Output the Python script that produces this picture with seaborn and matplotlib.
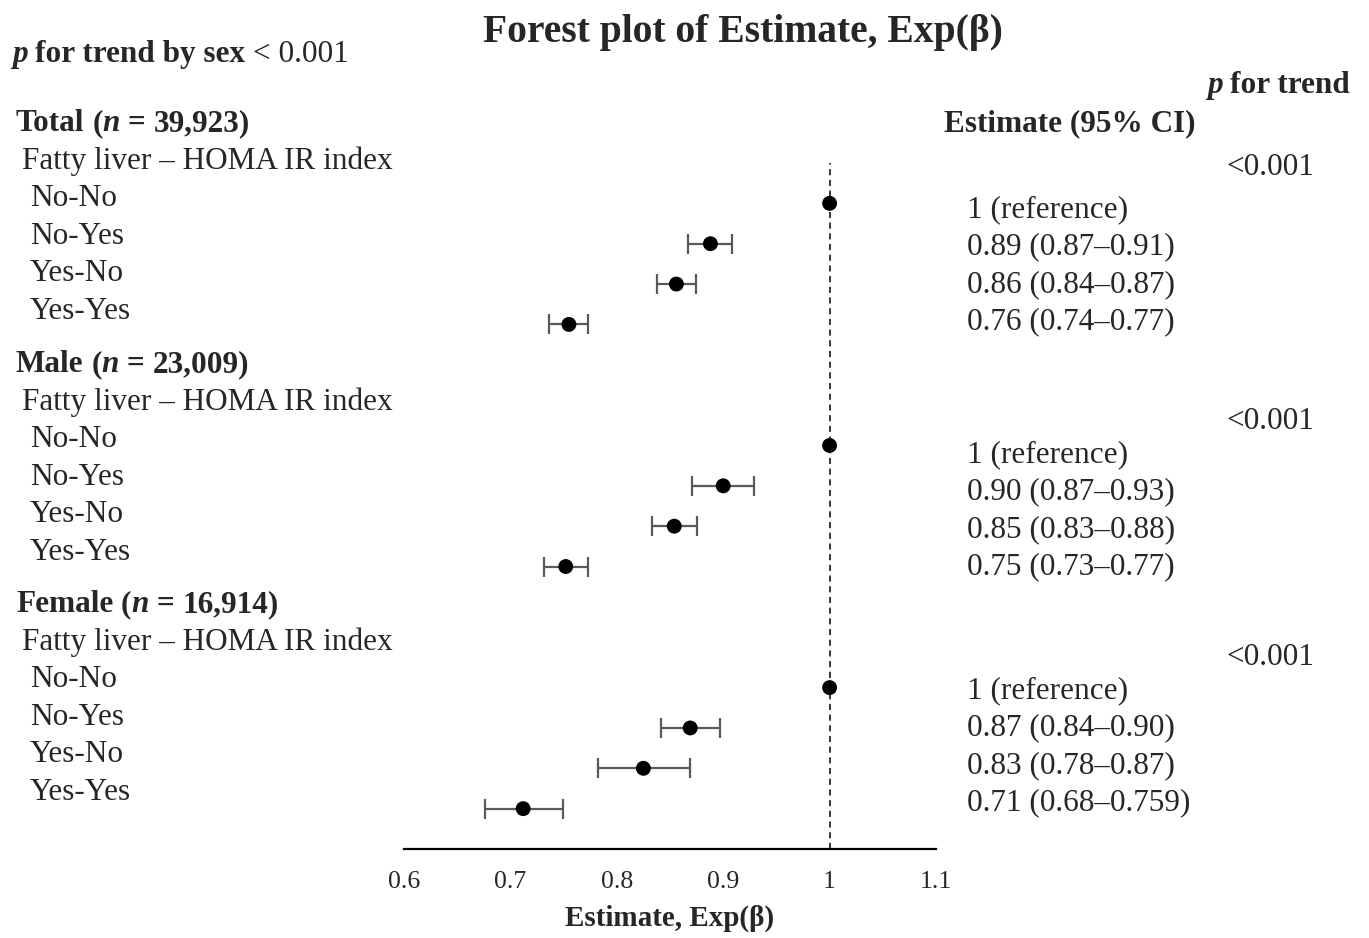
import numpy as np
import pandas as pd
import matplotlib
matplotlib.use('Agg')
import matplotlib.pyplot as plt
import seaborn as sns

sns.set_theme(style='white')
plt.rcParams['font.family'] = ['Liberation Serif', 'DejaVu Serif']

W, H, DPI = 1369, 938, 100

# data
groups = ['Total', 'Male', 'Female']
group_n = ['39,923', '23,009', '16,914']
categories = ['No-No', 'No-Yes', 'Yes-No', 'Yes-Yes']
est_total = [1.0, 0.888, 0.856, 0.755]
low_total = [1.0, 0.867, 0.838, 0.736]
high_total = [1.0, 0.908, 0.874, 0.773]
est_male = [1.0, 0.900, 0.854, 0.752]
low_male = [1.0, 0.871, 0.833, 0.732]
high_male = [1.0, 0.929, 0.875, 0.773]
est_female = [1.0, 0.869, 0.825, 0.712]
low_female = [1.0, 0.842, 0.782, 0.676]
high_female = [1.0, 0.897, 0.869, 0.749]
text_total = ['1 (reference)', '0.89 (0.87–0.91)', '0.86 (0.84–0.87)', '0.76 (0.74–0.77)']
text_male = ['1 (reference)', '0.90 (0.87–0.93)', '0.85 (0.83–0.88)', '0.75 (0.73–0.77)']
text_female = ['1 (reference)', '0.87 (0.84–0.90)', '0.83 (0.78–0.87)', '0.71 (0.68–0.759)']
p_trend = ['<0.001', '<0.001', '<0.001']

rows = []
for gi, (g, est, lo, hi) in enumerate([('Total', est_total, low_total, high_total),
                                       ('Male', est_male, low_male, high_male),
                                       ('Female', est_female, low_female, high_female)]):
    for ci, c in enumerate(categories):
        rows.append({'group': g, 'cat': c, 'est': est[ci], 'lo': lo[ci], 'hi': hi[ci],
                     'row': gi * 6 + ci})
df = pd.DataFrame(rows)

fig = plt.figure(figsize=(W / DPI, H / DPI), dpi=DPI)
ax = fig.add_axes([404 / W, 1 - 849 / H, (936 - 404) / W, (849 - 163) / H])

ci_df = df[df['hi'] > df['lo']]
ax.errorbar(ci_df['est'], ci_df['row'],
            xerr=[ci_df['est'] - ci_df['lo'], ci_df['hi'] - ci_df['est']],
            fmt='none', ecolor='#5a5a5a', elinewidth=1.6, capsize=7, capthick=1.6, zorder=2)
sns.scatterplot(data=df, x='est', y='row', color='black', s=115, edgecolor='none',
                ax=ax, zorder=3, legend=False)
ax.axvline(1.0, color='black', lw=1.1, ls=(0, (4, 3)), zorder=1)

ax.set_xlim(0.6, 1.1)
ax.set_ylim(16, -1)
ax.set_xticks([0.6, 0.7, 0.8, 0.9, 1.0, 1.1])
ax.set_xticklabels(['0.6', '0.7', '0.8', '0.9', '1', '1.1'])
ax.set_yticks([])
ax.tick_params(axis='x', length=0, pad=16, labelsize=18.5)
for s in ['top', 'right', 'left']:
    ax.spines[s].set_visible(False)
ax.spines['bottom'].set_linewidth(1.6)
ax.spines['bottom'].set_color('black')
ax.set_xlabel('Estimate, Exp(β)', fontsize=21, fontweight='bold', labelpad=8)
ax.set_ylabel('')

FS = 22.5
renderer = fig.canvas.get_renderer()


def put(x_px, y_px, s, **kw):
    return fig.text(x_px / W, 1 - y_px / H, s, va='baseline', **kw)


def rich(x_px, y_px, parts, size=FS):
    # parts: (string, weight, style); ' ' advances by a space
    x = x_px
    for s, wt, st in parts:
        if s == ' ':
            x += 0.25 * size * DPI / 72
            continue
        t = put(x, y_px, s, fontsize=size, fontweight=wt, fontstyle=st)
        bb = t.get_window_extent(renderer)
        x += bb.width


# title and top notes
put(743, 42, 'Forest plot of Estimate, Exp(β)', fontsize=28.5, fontweight='bold', ha='center')
rich(12, 62, [('p', 'bold', 'italic'), (' ', 0, 0), ('for trend by sex', 'bold', 'normal'),
              (' ', 0, 0), ('< 0.001', 'normal', 'normal')])
rich(1207, 93, [('p', 'bold', 'italic'), (' ', 0, 0), ('for trend', 'bold', 'normal')])
put(944, 131, 'Estimate (95% CI)', fontsize=FS, fontweight='bold')

head_y = [131, 372, 612]
est_y = [217, 462, 698]
p_y = [175, 429, 665]
line = 37.6
for gi, g in enumerate(groups):
    rich(16, head_y[gi], [(g, 'bold', 'normal'), (' ', 0, 0), ('(', 'bold', 'normal'),
                          ('n', 'bold', 'italic'), (' ', 0, 0), ('=', 'bold', 'normal'),
                          (' ', 0, 0), (group_n[gi] + ')', 'bold', 'normal')])
    put(22, head_y[gi] + line, 'Fatty liver – HOMA IR index', fontsize=FS)
    for ci, c in enumerate(categories):
        put(30, head_y[gi] + line * (ci + 2), c, fontsize=FS)
    texts = [text_total, text_male, text_female][gi]
    for ci, t in enumerate(texts):
        put(967, est_y[gi] + 37.5 * ci, t, fontsize=FS)
    put(1226, p_y[gi], p_trend[gi], fontsize=FS)

fig.savefig('out.png', dpi=DPI, facecolor='white')
